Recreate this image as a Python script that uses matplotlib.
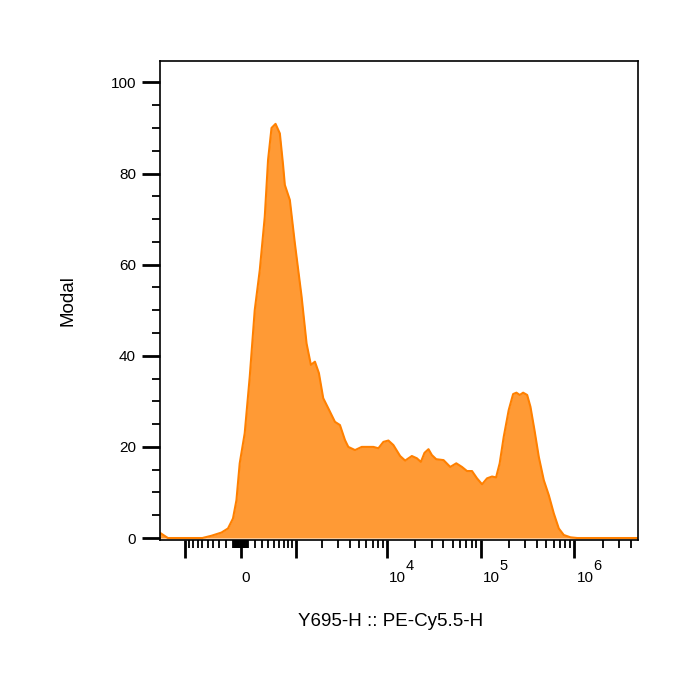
import matplotlib
matplotlib.use('Agg')
import matplotlib.pyplot as plt
import numpy as np

plt.rcParams['font.family'] = ['Liberation Sans', 'DejaVu Sans']

# histogram trace (fluorescence value, % of max)
intensity = [-1980, -1600, -600, -430, -270, -175, -105, -58, -13.5, 54, 123, 193,
             267, 344, 398, 457, 530, 614, 680, 720, 837, 967, 1165, 1332, 1493,
             1658, 1837, 2051, 2329, 2757, 3124, 3541, 3846, 4545, 5361, 7146,
             8086, 9146, 10345, 11700, 13800, 15610, 18415, 20835, 22990, 25135,
             27720, 30140, 33520, 40120, 47330, 54860, 63100, 71390, 80720,
             91300, 103350, 116860, 132160, 145780, 159370, 175950, 199000,
             221700, 240440, 260960, 283530, 312950, 339350, 374550, 416600,
             471000, 532700, 602250, 681000, 770000, 908600, 1071600, 4730000]
modal = [1.2, 0, 0, 0.5, 1.2, 2.1, 4.3, 8.3, 16.4, 23, 35.4, 50,
         58.8, 70.5, 83, 90, 90.9, 88.8, 82, 77.5, 74.2, 64.7, 53, 42.7, 38,
         38.7, 36.2, 30.7, 28.5, 25.5, 24.8, 21.5, 20.0, 19.3, 20.0, 20.0,
         19.7, 21.1, 21.4, 20.4, 18.0, 17.0, 18.0, 17.5, 16.7, 18.7,
         19.5, 18.2, 17.3, 17.1, 15.6, 16.4, 15.6, 14.7, 14.7,
         13.1, 11.8, 13.1, 13.5, 13.3, 16.4, 22.2, 28.1,
         31.6, 31.9, 31.4, 31.9, 31.4, 28.8, 23.7, 17.8,
         12.7, 9.4, 5.4, 2.1, 0.66, 0.15, 0, 0]

major_x = [-1000, 0, 1000, 1e4, 1e5, 1e6]
decade_ticks = [1e4, 1e5, 1e6]
decade_exps = ['4', '5', '6']

W = 550.0


def fwd(v):
    return np.arcsinh(np.asarray(v) / W)


def inv(v):
    return W * np.sinh(np.asarray(v))


fig = plt.figure(figsize=(7, 6.93), dpi=100)
ax = fig.add_axes([0.228, 0.221, 0.683, 0.691])
ax.set_xscale('function', functions=(fwd, inv))

ax.fill_between(intensity, modal, 0, color='#FF9A35', linewidth=0)
ax.plot(intensity, modal, color='#FF8000', linewidth=1.5)

ax.set_xlim(-1980, 4.73e6)
ax.set_ylim(-0.4, 104.7)

minor_x = []
for s in [-1, 1]:
    minor_x += [s * v for v in range(10, 100, 10)]
    minor_x += [s * v for v in range(100, 1000, 100)]
for dec in [1e3, 1e4, 1e5]:
    minor_x += [k * dec for k in range(2, 10)]
minor_x += [2e6, 3e6, 4e6]

ax.set_xticks(major_x)
ax.set_xticklabels([''] * len(major_x))
ax.set_xticks(minor_x, minor=True)
ax.set_yticks(range(0, 101, 20))
ax.set_yticks(range(0, 101, 5), minor=True)

ax.tick_params(axis='both', which='major', length=13, width=2, labelsize=11, color='black')
ax.tick_params(axis='both', which='minor', length=6, width=1.3, color='black')
ax.tick_params(axis='y', which='major', pad=4)

# x tick labels, FlowJo style with big exponents
lab_tr = ax.get_xaxis_transform()
ax.annotate('0', xy=(0, 0), xycoords=lab_tr, xytext=(3.6, -30), textcoords='offset points',
            ha='center', va='baseline', fontsize=11)
for v, e in zip(decade_ticks, decade_exps):
    ax.annotate('10', xy=(v, 0), xycoords=lab_tr, xytext=(1.5, -30), textcoords='offset points',
                ha='left', va='baseline', fontsize=11)
    ax.annotate(e, xy=(v, 0), xycoords=lab_tr, xytext=(13.2, -21.5), textcoords='offset points',
                ha='left', va='baseline', fontsize=10.5)

for sp in ax.spines.values():
    sp.set_linewidth(1.2)

ax.set_ylabel('Modal', fontsize=13.5)
ax.yaxis.set_label_coords(-0.173, 0.5)
ax.set_xlabel('Y695-H :: PE-Cy5.5-H', fontsize=13.5)
ax.xaxis.set_label_coords(0.484, -0.152)

fig.savefig('out.png', dpi=100)
